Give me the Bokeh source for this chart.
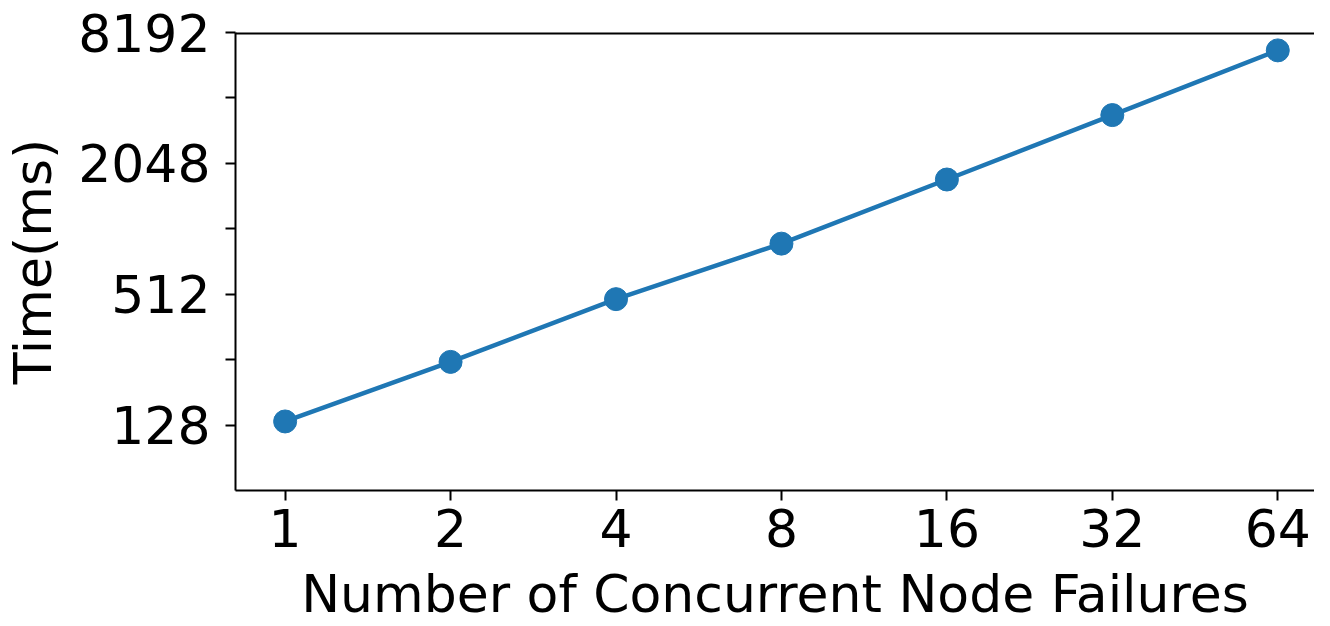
from bokeh.plotting import figure
from bokeh.models import FixedTicker, BasicTickFormatter, Span
from bokeh.embed import file_html
from bokeh.resources import INLINE

# Data
failures = [1, 2, 4, 8, 16, 32, 64]
time_ms = [133, 250, 486, 875, 1726, 3416, 6778]
x_ticks = [1, 2, 4, 8, 16, 32, 64]
y_ticks = [128, 512, 2048, 8192]
y_minor_ticks = [256, 1024, 4096]

COLOR = "#1f77b4"
FONT = "DejaVu Sans"

p = figure(
    width=1314, height=626,
    x_axis_type="log", y_axis_type="log",
    x_range=(2 ** -0.3, 2 ** 6.222), y_range=(64, 8192),
    output_backend="svg", toolbar_location=None,
    min_border_left=228, min_border_top=32, min_border_right=0,
)
p.outline_line_color = None
p.xgrid.visible = False
p.ygrid.visible = False

p.line(failures, time_ms, line_color=COLOR, line_width=4.5)
p.scatter(failures, time_ms, size=23, fill_color=COLOR, line_color=COLOR)

# top spine of the box (right spine lies beyond the picture edge)
p.add_layout(Span(location=y_ticks[-1], dimension="width",
                  line_color="black", line_width=4))

p.xaxis.ticker = FixedTicker(ticks=x_ticks, minor_ticks=[])
p.yaxis.ticker = FixedTicker(ticks=y_ticks, minor_ticks=y_minor_ticks)
p.xaxis.formatter = BasicTickFormatter()
p.yaxis.formatter = BasicTickFormatter()

for ax in (p.xaxis[0], p.yaxis[0]):
    ax.axis_line_width = 2
    ax.axis_line_color = "black"
    ax.major_tick_line_width = 2
    ax.minor_tick_line_width = 2
    ax.major_tick_in = 0
    ax.major_tick_out = 10
    ax.minor_tick_in = 0
    ax.minor_tick_out = 10
    ax.major_label_text_font = FONT
    ax.major_label_text_font_size = "52px"
    ax.major_label_text_color = "black"
    ax.axis_label_text_font = FONT
    ax.axis_label_text_font_size = "52px"
    ax.axis_label_text_font_style = "normal"
    ax.axis_label_text_color = "black"

p.xaxis.axis_label = "Number of Concurrent Node Failures"
p.yaxis.axis_label = "Time(ms)"
p.xaxis.major_label_standoff = 8
p.xaxis.axis_label_standoff = 14
p.yaxis.major_label_standoff = 15
p.yaxis.axis_label_standoff = 12

open("out.html", "w").write(file_html(p, INLINE))
